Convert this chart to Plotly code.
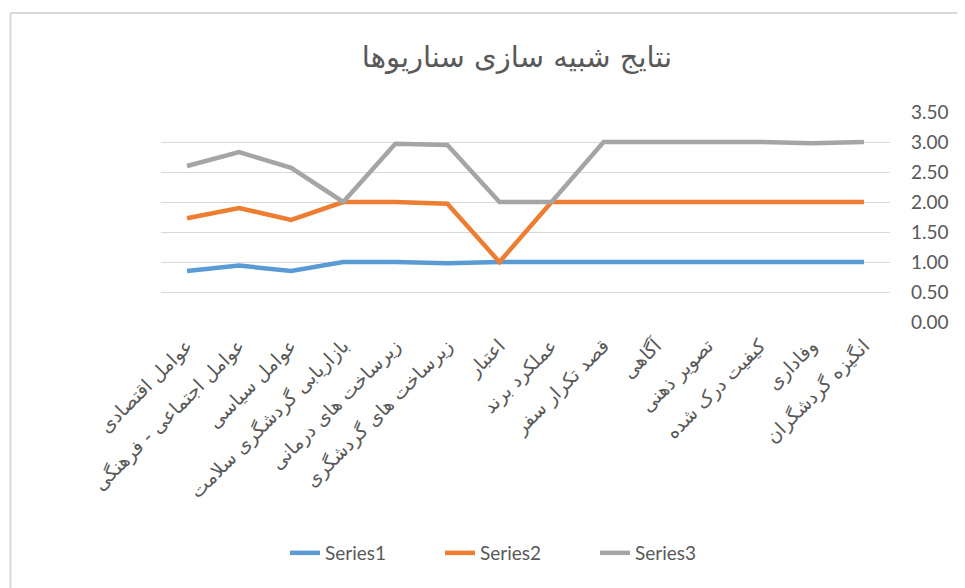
import plotly.graph_objects as go

categories = [
    "عوامل اقتصادی",
    "عوامل اجتماعی - فرهنگی",
    "عوامل سیاسی",
    "بازاریابی گردشگری سلامت",
    "زیرساخت های درمانی",
    "زیرساخت های گردشگری",
    "اعتبار",
    "عملکرد برند",
    "قصد تکرار سفر",
    "آگاهی",
    "تصویر ذهنی",
    "کیفیت درک شده",
    "وفاداری",
    "انگیزه گردشگران",
]
series1 = [0.85, 0.94, 0.85, 1.00, 1.00, 0.98, 1.00, 1.00, 1.00, 1.00, 1.00, 1.00, 1.00, 1.00]
series2 = [1.73, 1.90, 1.70, 2.00, 2.00, 1.97, 1.00, 2.00, 2.00, 2.00, 2.00, 2.00, 2.00, 2.00]
series3 = [2.60, 2.83, 2.57, 2.00, 2.97, 2.95, 2.00, 2.00, 3.00, 3.00, 3.00, 3.00, 2.98, 3.00]
series_names = ["Series1", "Series2", "Series3"]
colors = ["#5B9BD5", "#ED7D31", "#A5A5A5"]
title_text = "نتایج شبیه سازی سناریوها"

FONT = "Lato, 'DejaVu Sans', sans-serif"
TXT = "#595959"

fig = go.Figure()
for name, vals, col in zip(series_names, [series1, series2, series3], colors):
    fig.add_trace(go.Scatter(
        x=categories, y=vals, name=name, mode="lines",
        line=dict(color=col, width=4.5),
    ))

# page body adds an 8px offset; coordinates below are in figure pixels
OFF = 8
W, H = 965, 588
L, R, T, B = 161 - OFF, 890 - OFF, 112 - OFF, 322 - OFF

fig.update_layout(
    width=W, height=H,
    margin=dict(l=L, r=W - R, t=T, b=H - B, autoexpand=False),
    paper_bgcolor="white", plot_bgcolor="white",
    font=dict(family=FONT, color=TXT),
    title=dict(text=title_text, x=(517 - OFF) / W, xanchor="center",
               y=1 - (57 - OFF) / H, yanchor="middle", yref="container",
               font=dict(size=29, color=TXT, family="'DejaVu Sans', sans-serif")),
    showlegend=True,
    legend=dict(orientation="h", x=(285 - 161) / (890 - 161), xanchor="left",
                y=(322 - 553) / (322 - 112), yanchor="middle",
                font=dict(size=19, color=TXT),
                entrywidth=110, entrywidthmode="pixels",
                traceorder="normal"),
    xaxis=dict(type="category", range=[-0.5, len(categories) - 0.5],
               showgrid=False, showline=False, zeroline=False, ticks="",
               tickangle=-45, ticklabelstandoff=8,
               tickfont=dict(size=19, color=TXT,
                             family="'DejaVu Sans', sans-serif")),
    yaxis=dict(side="right", range=[0, 3.5], dtick=0.5, tickformat=".2f",
               showgrid=True, gridcolor="#D9D9D9", gridwidth=1,
               zeroline=False, showline=False, ticks="",
               ticklabelstandoff=20,
               tickfont=dict(size=19, color=TXT)),
)

# chart frame (top and left edges visible)
fx = (10.5 - 161) / (890 - 161)
fy = (322 - 13) / (322 - 112)
fig.add_shape(type="line", xref="paper", yref="paper",
              x0=fx, x1=(W + 20 - 161) / (890 - 161), y0=fy, y1=fy,
              line=dict(color="#D9D9D9", width=2))
fig.add_shape(type="line", xref="paper", yref="paper",
              x0=fx, x1=fx, y0=fy, y1=(322 - H - 20) / (322 - 112),
              line=dict(color="#D9D9D9", width=2))

fig.write_html("out.html")
